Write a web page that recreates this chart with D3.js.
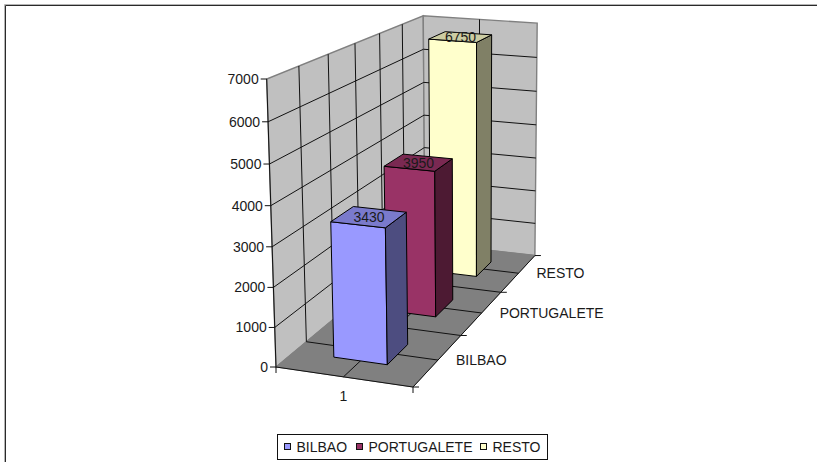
<!DOCTYPE html>
<html>
<head>
<meta charset="utf-8">
<script src="https://cdn.jsdelivr.net/npm/d3@7"></script>
<style>
  body { margin: 0; background: #fff; }
  text { font-family: "Liberation Sans", Arial, sans-serif; font-size: 14px; fill: #1a1a1a; }
</style>
</head>
<body>
<div id="chart"></div>
<script>
/* DATA */
const seriesNames = ["BILBAO", "PORTUGALETE", "RESTO"];
const seriesValues = [3430, 3950, 6750];
const categories = ["1"];
const valueTicks = [0, 1000, 2000, 3000, 4000, 5000, 6000, 7000];
const frontColors = ["#9999ff", "#993366", "#ffffcc"];
const topColors = ["#7a7acc", "#7a2952", "#cccca3"];
const sideColors = ["#4d4d80", "#4d1a33", "#808066"];

const width = 817, height = 462;

/* SCALES: everything goes to a unit box first, then through the perspective below */
const valueScale = d3.scaleLinear().domain([0, 7000]).range([0, 1]);
const catScale = d3.scaleBand().domain(categories).range([0, 1]).paddingInner(0.6).paddingOuter(0.3);
const depthScale = d3.scaleBand().domain(seriesNames).range([0, 1]).paddingInner(0.6).paddingOuter(0.3);

// perspective of the box (u across, v up, w into the page)
const origin = [276, 367], uEnd = [413, 387], vEnd = [266.7, 79], wEnd = [425, 243];
const ua = -0.03, vb = -0.045, wc = 0.28;
const axisU = [uEnd[0] * (1 + ua) - origin[0], uEnd[1] * (1 + ua) - origin[1]];
const axisV = [vEnd[0] * (1 + vb) - origin[0], vEnd[1] * (1 + vb) - origin[1]];
const axisW = [wEnd[0] * (1 + wc) - origin[0], wEnd[1] * (1 + wc) - origin[1]];

function project(u, v, w) {
  const d = 1 + ua * u + vb * v + wc * w;
  return [
    (origin[0] + u * axisU[0] + v * axisV[0] + w * axisW[0]) / d,
    (origin[1] + u * axisU[1] + v * axisV[1] + w * axisW[1]) / d
  ];
}

const line = d3.line();
const poly = pts => line(pts.map(p => project(p[0], p[1], p[2]))) + "Z";

const svg = d3.select("#chart").append("svg").attr("width", width).attr("height", height)
  .style("display", "block");

// outer frame, only top and left show
svg.append("path").attr("d", "M4.5,462V4.5H817").attr("fill", "none").attr("stroke", "#b4b4b4");
svg.append("path").attr("d", "M5.5,462V5.5H817").attr("fill", "none").attr("stroke", "#2a2a2a");

/* WALLS AND FLOOR */
svg.append("path").attr("d", poly([[0,0,0],[0,1,0],[0,1,1],[0,0,1]])).attr("fill", "#c0c0c0").attr("stroke", "#808080").attr("stroke-width", 1.4);
svg.append("path").attr("d", poly([[0,0,1],[0,1,1],[1,1,1],[1,0,1]])).attr("fill", "#c0c0c0").attr("stroke", "#808080").attr("stroke-width", 1.4);
svg.append("path").attr("d", poly([[0,0,0],[1,0,0],[1,0,1],[0,0,1]])).attr("fill", "#808080").attr("stroke", "#808080");

/* GRIDLINES */
const depthGrid = d3.range(0, 7).map(d => d / 6);
const grid = svg.append("g").attr("fill", "none").attr("stroke", "#111");
valueTicks.slice(1, -1).forEach(t => {
  const v = valueScale(t);
  grid.append("path").attr("d", line([project(0, v, 0), project(0, v, 1), project(1, v, 1)]));
});
depthGrid.slice(1, -1).forEach(w => {
  grid.append("path").attr("d", line([project(0, 1, w), project(0, 0, w), project(1, 0, w)]));
});
// middle of the single category
grid.append("path").attr("d", line([project(0.5, 0, 0), project(0.5, 0, 1), project(0.5, 1, 1)]));

/* AXES */
const axes = svg.append("g").attr("fill", "none").attr("stroke", "#111");
axes.append("path").attr("d", line([project(0, 1, 0), project(0, 0, 0), project(1, 0, 0), project(1, 0, 1)]));
valueTicks.forEach(t => {
  const p = project(0, valueScale(t), 0);
  axes.append("path").attr("d", line([[p[0] - 6, p[1]], p]));
  svg.append("text").attr("x", p[0] - 8).attr("y", p[1] + 5).attr("text-anchor", "end").text(t);
});
[0, 1].forEach(u => {
  const p = project(u, 0, 0);
  axes.append("path").attr("d", line([p, [p[0], p[1] + 6]]));
});
[0, 1, 2, 3].forEach(i => {
  const p = project(1, 0, i / 3);
  axes.append("path").attr("d", line([p, [p[0] + 6, p[1]]]));
});
categories.forEach(c => {
  const p = project(catScale(c) + catScale.bandwidth() / 2, 0, 0);
  svg.append("text").attr("x", p[0]).attr("y", p[1] + 24).attr("text-anchor", "middle").text(c);
});
seriesNames.forEach(s => {
  const p = project(1, 0, depthScale(s) + depthScale.bandwidth() / 2);
  svg.append("text").attr("x", p[0] + 18).attr("y", p[1] + 5).text(s);
});

/* BARS, back to front */
const u0 = catScale(categories[0]), u1 = u0 + catScale.bandwidth();
const bars = seriesNames.map((name, i) => ({ name, value: seriesValues[i], i })).reverse();

bars.forEach(d => {
  const w0 = depthScale(d.name), w1 = w0 + depthScale.bandwidth(), v = valueScale(d.value);
  const g = svg.append("g").attr("stroke", "#000").attr("stroke-linejoin", "round");
  g.append("path").attr("d", poly([[u0,0,w0],[u0,v,w0],[u1,v,w0],[u1,0,w0]])).attr("fill", frontColors[d.i]);
  g.append("path").attr("d", poly([[u1,0,w0],[u1,v,w0],[u1,v,w1],[u1,0,w1]])).attr("fill", sideColors[d.i]);
  g.append("path").attr("d", poly([[u0,v,w0],[u0,v,w1],[u1,v,w1],[u1,v,w0]])).attr("fill", topColors[d.i]);
  const c = project((u0 + u1) / 2, v, (w0 + w1) / 2);
  svg.append("text").attr("x", c[0]).attr("y", c[1] + 5).attr("text-anchor", "middle").text(d.value);
});

/* LEGEND */
const legend = svg.append("g").attr("transform", "translate(277,434)");
legend.append("rect").attr("x", 0.5).attr("y", 0.5).attr("width", 270).attr("height", 25).attr("fill", "#fff").attr("stroke", "#111");
const legendX = [7, 79, 203];
seriesNames.forEach((s, i) => {
  legend.append("rect").attr("x", legendX[i] + 0.5).attr("y", 9.5).attr("width", 6).attr("height", 6)
    .attr("fill", frontColors[i]).attr("stroke", "#111");
  legend.append("text").attr("x", legendX[i] + 12.5).attr("y", 18).text(s);
});
</script>
</body>
</html>
